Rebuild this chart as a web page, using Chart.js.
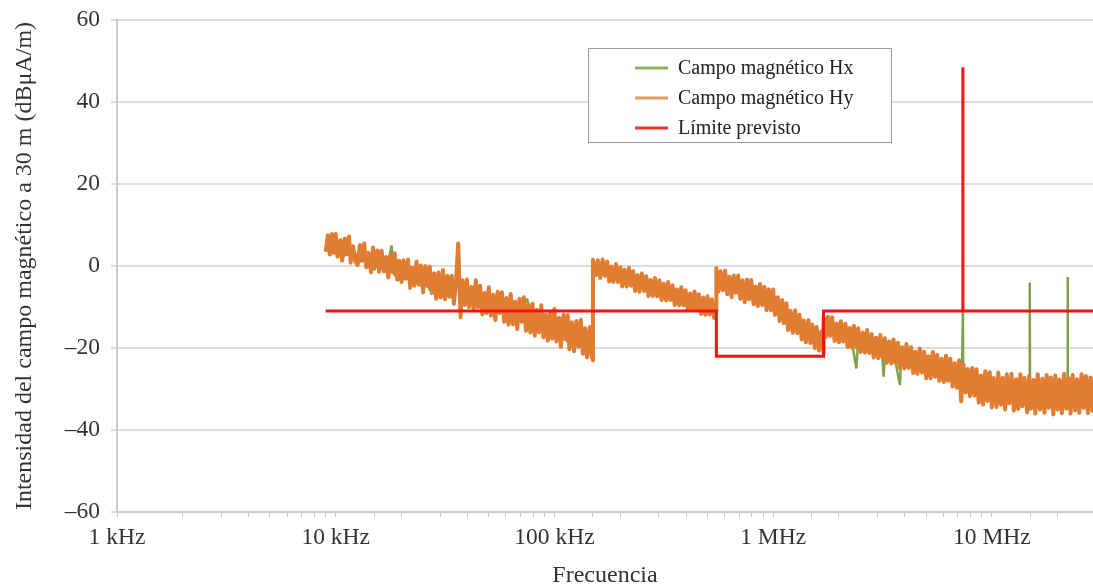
<!DOCTYPE html>
<html lang="es">
<head>
<meta charset="utf-8">
<title>Intensidad del campo magnético a 30 m</title>
<script src="https://cdn.jsdelivr.net/npm/chart.js@4.4.1/dist/chart.umd.min.js"></script>
<style>
  html, body { margin: 0; padding: 0; background: #fff; }
  #wrap { width: 1093px; height: 588px; }
</style>
</head>
<body>
<div id="wrap"><canvas id="fieldChart" width="1093" height="588"></canvas></div>
<script>
// Magnetic field strength at 30 m vs frequency (log axis, kHz)

const serif = '"Liberation Serif", "Times New Roman", serif';

// Campo magnético Hy (orange) - frequency in kHz, level in dBµA/m
const hyFreqKHz = [
  9, 9.2, 9.4, 9.6, 9.8,
  10, 10.2, 10.5, 10.7, 11, 11.2, 11.5, 11.7, 12, 12.3,
  12.6, 12.9, 13.2, 13.5, 13.8, 14.1, 14.5, 14.8, 15.1, 15.5,
  15.8, 16.2, 16.6, 17, 17.4, 17.8, 18.2, 18.6, 19.1, 19.5,
  20, 20.4, 20.9, 21.4, 21.9, 22.4, 22.9, 23.4, 24, 24.5,
  25.1, 25.7, 26.3, 26.9, 27.5, 28.2, 28.8, 29.5, 30.2, 30.9,
  31.6, 32.4, 33.1, 33.9, 34.7, 35.5, 36.3, 37.2, 38, 38.9,
  39.8, 40.7, 41.7, 42.7, 43.7, 44.7, 45.7, 46.8, 47.9, 49,
  50.1, 51.3, 52.5, 53.7, 55, 56.2, 57.5, 58.9, 60.3, 61.7,
  63.1, 64.6, 66.1, 67.6, 69.2, 70.8, 72.4, 74.1, 75.9, 77.6,
  79.4, 81.3, 83.2, 85.1, 87.1, 89.1, 91.2, 93.3, 95.5, 97.7,
  100, 102, 105, 107, 110, 112, 115, 117, 120, 123,
  126, 129, 132, 135, 138, 141, 145, 148, 150,
  150, 155, 158, 162, 166, 170, 174, 178, 182, 186,
  191, 195, 200, 204, 209, 214, 219, 224, 229, 234,
  240, 245, 251, 257, 263, 269, 275, 282, 288, 295,
  302, 309, 316, 324, 331, 339, 347, 355, 363, 372,
  380, 389, 398, 407, 417, 427, 437, 447, 457,
  468, 479, 490, 501, 513, 525, 537, 550,
  550, 562, 575, 589, 603, 617, 631, 646, 661, 676,
  692, 708, 724, 741, 759, 776, 794, 813, 832, 851,
  871, 891, 912, 933, 955, 977, 1000, 1020, 1050, 1070,
  1100, 1120, 1150, 1170, 1200, 1230, 1260, 1290, 1320, 1350,
  1380, 1410, 1450, 1480, 1510, 1550, 1580, 1620, 1660, 1700,
  1700, 1740, 1780, 1820, 1860, 1910, 1950, 2000, 2040, 2090,
  2140, 2190, 2240, 2290, 2340, 2400, 2450, 2510, 2570, 2630,
  2690, 2750, 2820, 2880, 2950, 3020, 3090, 3160, 3240, 3310,
  3390, 3470, 3550, 3630, 3720, 3800, 3890, 3980, 4070, 4170,
  4270, 4370, 4470, 4570, 4680, 4790, 4900, 5010, 5130, 5250,
  5370, 5500, 5620, 5750, 5890, 6030, 6170, 6310, 6460, 6610,
  6760, 6920, 7080, 7240, 7410, 7590, 7760, 7940, 8130, 8320,
  8510, 8710, 8910, 9120, 9330, 9550, 9770, 10000, 10200, 10500,
  10700, 11000, 11200, 11500, 11700, 12000, 12300, 12600, 12900, 13200,
  13500, 13800, 14100, 14500, 14800, 15100, 15500, 15800, 16200, 16600,
  17000, 17400, 17800, 18200, 18600, 19100, 19500, 20000, 20400, 20900,
  21400, 21900, 22400, 22900, 23400, 24000, 24500, 25100, 25700, 26300,
  26900, 27500, 28200, 28800, 29500
];
const hyLevel = [
  3.5, 7.5, 2.8, 7.8, 3.2,
  7.8, 2.3, 6.3, 1.3, 6.7, 2.9, 7.2, 0.8, 4.8, 1.0,
  0.2, 5.1, 1.3, 5.5, -0.3, 3.2, -1.5, 4.5, -0.2, 3.8,
  -1.4, 3.7, -1.3, 2.2, -2.8, 2.6, -1.5, 3.1, -3.3, 1.3,
  -3.9, 1.4, -3.1, 1.6, -5.3, -0.4, -4.8, 1.1, -4.6, 0.1,
  -6.4, 0, -4.9, -0.1, -6.6, -1.8, -8.0, -1.6, -7.7, -1.0,
  -8.1, -2.4, -7.5, -2.4, -9.2, -3.5, 5.5, -12.5, -3.5, -9.5,
  -3.3, -10.0, -5.1, -10.7, -3.5, -10.1, -4.8, -11.8, -6.6, -11.5,
  -5.2, -12.1, -7.0, -13.2, -6.3, -11.5, -6.4, -13.6, -7.8, -14.3,
  -6.8, -14.2, -8.7, -15.4, -8.0, -13.6, -7.6, -15.8, -9.5, -16.2,
  -9.2, -17.0, -10.7, -16.2, -9.6, -17.4, -11.9, -18.2, -11.1, -17.7,
  -10.5, -18.4, -12.6, -19.7, -11.9, -17.8, -12.0, -20.3, -13.7, -20.8,
  -13.4, -19.7, -13.1, -21.4, -15.2, -22.3, -14.9, -22.0, -23,
  1.5, -2.2, 1.4, -2.9, 1.6, -2.4, 1.1, -3.8, -0.1, -3.9,
  0.5, -3.9, -0.3, -5.0, -0.9, -5.0, -0.5, -4.8, -1.3, -6.1,
  -2.2, -6.3, -1.8, -6.1, -2.5, -7.3, -3.4, -7.3, -2.9, -7.4,
  -3.5, -8.3, -4.3, -8.4, -3.9, -8.3, -4.7, -9.5, -5.7, -9.6,
  -5.2, -9.6, -5.9, -10.7, -6.7, -10.7, -6.2, -10.6, -6.9,
  -11.7, -7.7, -11.9, -7.4, -11.8, -8.1, -12.7, -11,
  -0.5, -6.2, -1.3, -5.9, -1.1, -6.9, -2.6, -7.6, -2.3, -6.5,
  -2.3, -8.0, -3.5, -8.8, -3.3, -8.1, -3.4, -9.3, -5.0, -9.8,
  -4.4, -9.5, -5.1, -10.8, -5.7, -10.8, -5.7, -11.9, -7.6, -13.4,
  -8.3, -13.9, -9.1, -15.6, -10.9, -16.3, -10.8, -16.4, -11.9, -17.9,
  -13.3, -18.6, -13.2, -18.8, -14.3, -20.0, -14.9, -20.6, -16.0, -21,
  -12.5, -17.3, -12.4, -17.1, -12.5, -18.3, -14.0, -18.6, -13.5, -18.4,
  -14.1, -19.8, -15.1, -19.9, -14.6, -19.8, -15.2, -21.0, -16.2, -21.1,
  -15.6, -21.2, -16.6, -22.3, -17.5, -22.5, -16.8, -22.3, -17.6, -23.6,
  -18.4, -23.8, -17.9, -23.6, -18.7, -24.9, -19.8, -25.0, -19.0, -24.9,
  -19.8, -26.1, -20.9, -26.3, -20.1, -26.0, -20.9, -27.4, -22.0, -27.4,
  -21.0, -27.0, -21.7, -28.0, -22.6, -28.3, -21.9, -28.0, -22.6, -29.4,
  -23.7, -29.7, -23.0, -33.0, -24.0, -30.8, -25.1, -31.7, -24.9, -31.6,
  -25.2, -33.3, -26.7, -33.8, -25.7, -32.9, -25.9, -34.5, -27.3, -34.4,
  -26.0, -33.8, -27.3, -35.0, -26.4, -33.5, -26.3, -35.3, -27.6, -34.9,
  -26.4, -34.2, -27.3, -35.7, -26.8, -34.8, -27.8, -36.0, -26.4, -35.0,
  -27.5, -35.8, -26.6, -34.6, -27.2, -36.2, -26.7, -35.0, -27.7, -35.9,
  -26.3, -34.8, -27.4, -36.0, -26.6, -35.2, -27.6, -35.8, -26.4, -34.6,
  -26.8, -35.9, -27.2, -35.3, -27.0
];

// Campo magnético Hx (green)
const hxFreqKHz = [
  9, 9.5, 10, 10.5, 11, 12, 13, 14, 15, 16,
  17, 18, 18.5, 19.5, 21, 23, 25, 27, 30, 33,
  36, 40, 45, 50, 55, 62, 70, 75, 80, 90,
  100, 115, 130, 145, 150,
  150, 170, 200, 250, 300, 350, 400, 450, 500, 550,
  550, 600, 700, 800, 900, 1000, 1100, 1200, 1300, 1400, 1500, 1600, 1700,
  1700, 2000, 2300, 2400, 2450, 2700, 3150, 3200, 3250, 3600,
  3800, 3850, 4500, 5000, 5500, 6000, 6500, 7300, 7370, 7400,
  8000, 9000, 10000, 11000, 12000, 13000, 14850, 14900, 14950, 17000,
  20000, 22150, 22200, 22250, 25000, 29500
];
const hxLevel = [
  4, 6, 3, 6.5, 2.5, 4, 1, 3, -1, 2,
  -1.5, 5, -2, -3.5, -1, -4.5, -2, -6, -3, -7.5,
  -5, -8.5, -7, -11, -9, -13.5, -11, -8, -14.5, -16,
  -13, -18.5, -16, -21, -22,
  0.5, -1, -3.5, -5, -5.5, -7.5, -8, -10, -10.5, -11,
  -2, -4, -6, -7.5, -8, -9.5, -12, -13.5, -15, -15.5, -17, -18, -17.5,
  -14, -17, -19, -25, -18, -20, -21, -27, -21, -22.5,
  -29, -22, -24, -25, -26, -27, -27, -26.5, -11, -27,
  -29, -30, -31, -30.5, -31, -31, -31, -4, -31, -31.5,
  -31, -31, -2.7, -31, -32, -31
];

// Límite previsto (red)
const limitFreqKHz = [9, 550, 550, 1700, 1700, 7370, 7370, 7370, 29500];
const limitLevel   = [-11, -11, -22, -22, -11, -11, 48.5, -11, -11];

const yTicks = [-60, -40, -20, 0, 20, 40, 60];

function toPoints(xs, ys) {
  return xs.map((x, i) => ({ x: x, y: ys[i] }));
}

function freqLabel(v) {
  const l = Math.log10(v);
  if (Math.abs(l - Math.round(l)) > 1e-9) return '';
  if (v >= 1000) return (v / 1000) + ' MHz';
  return v + ' kHz';
}

// legend drawn inside the plot, boxed
const boxLegend = {
  id: 'boxLegend',
  afterDraw(chart) {
    const ctx = chart.ctx;
    ctx.save();
    ctx.fillStyle = '#ffffff';
    ctx.fillRect(588, 48, 303, 94);
    ctx.strokeStyle = '#9a9a9a';
    ctx.lineWidth = 1;
    ctx.strokeRect(588.5, 48.5, 303, 94);
    ctx.font = '20px ' + serif;
    ctx.textBaseline = 'middle';
    ctx.textAlign = 'left';
    chart.data.datasets.forEach((ds, i) => {
      const y = 68 + i * 30;
      ctx.strokeStyle = ds.legendColor;
      ctx.lineWidth = 3;
      ctx.beginPath();
      ctx.moveTo(635, y);
      ctx.lineTo(668, y);
      ctx.stroke();
      ctx.fillStyle = '#222';
      ctx.fillText(ds.label, 678, y + 1);
    });
    ctx.restore();
  }
};

const chart = new Chart(document.getElementById('fieldChart'), {
  type: 'line',
  data: {
    datasets: [
      {
        label: 'Campo magnético Hx',
        data: toPoints(hxFreqKHz, hxLevel),
        borderColor: '#7ea34c',
        legendColor: '#8ab35c',
        borderWidth: 2.5,
        order: 3
      },
      {
        label: 'Campo magnético Hy',
        data: toPoints(hyFreqKHz, hyLevel),
        borderColor: '#e07d32',
        legendColor: '#e49a60',
        borderWidth: 4,
        borderJoinStyle: 'round',
        order: 2
      },
      {
        label: 'Límite previsto',
        data: toPoints(limitFreqKHz, limitLevel),
        borderColor: '#ff1010',
        legendColor: '#f03030',
        borderWidth: 3,
        borderJoinStyle: 'miter',
        order: 1
      }
    ]
  },
  options: {
    responsive: false,
    animation: false,
    elements: {
      point: { radius: 0, hoverRadius: 0 },
      line: { tension: 0, fill: false, borderJoinStyle: 'bevel' }
    },
    layout: { padding: { top: 20, right: 0, bottom: 0, left: 0 } },
    plugins: {
      legend: { display: false },
      tooltip: { enabled: false }
    },
    scales: {
      x: {
        type: 'logarithmic',
        position: 'bottom',
        min: 1,
        max: 29000,
        grid: { drawOnChartArea: false, drawTicks: true, tickLength: 5, color: '#c4c4c4', lineWidth: 1 },
        border: { display: true, color: '#cccccc', width: 2 },
        ticks: {
          autoSkip: false,
          maxRotation: 0,
          padding: 7,
          color: '#333',
          font: { family: serif, size: 23.5 },
          callback: v => freqLabel(v)
        },
        title: {
          display: true,
          text: 'Frecuencia',
          color: '#333',
          font: { family: serif, size: 24, lineHeight: 1 },
          padding: { top: 0, bottom: 0 }
        },
        afterFit: s => {
          s.height = 76;
          s.paddingLeft = 0;
          s.paddingRight = 0;
        }
      },
      y: {
        min: -60,
        max: 60,
        afterBuildTicks: s => { s.ticks = yTicks.map(v => ({ value: v })); },
        grid: { color: '#dddddd', lineWidth: 2, drawTicks: true, tickLength: 6 },
        border: { display: true, color: '#cccccc', width: 2 },
        ticks: {
          padding: 11,
          color: '#333',
          font: { family: serif, size: 23.5 },
          callback: v => (v < 0 ? '\u2013' + Math.abs(v) : String(v))
        },
        title: {
          display: true,
          text: 'Intensidad del campo magnético a 30 m (dBμA/m)',
          color: '#333',
          font: { family: serif, size: 24 },
          padding: { top: 10, bottom: 0 }
        },
        afterFit: s => {
          s.width = 117;
          s.paddingTop = 0;
          s.paddingBottom = 0;
        }
      }
    }
  },
  plugins: [boxLegend]
});
</script>
</body>
</html>
